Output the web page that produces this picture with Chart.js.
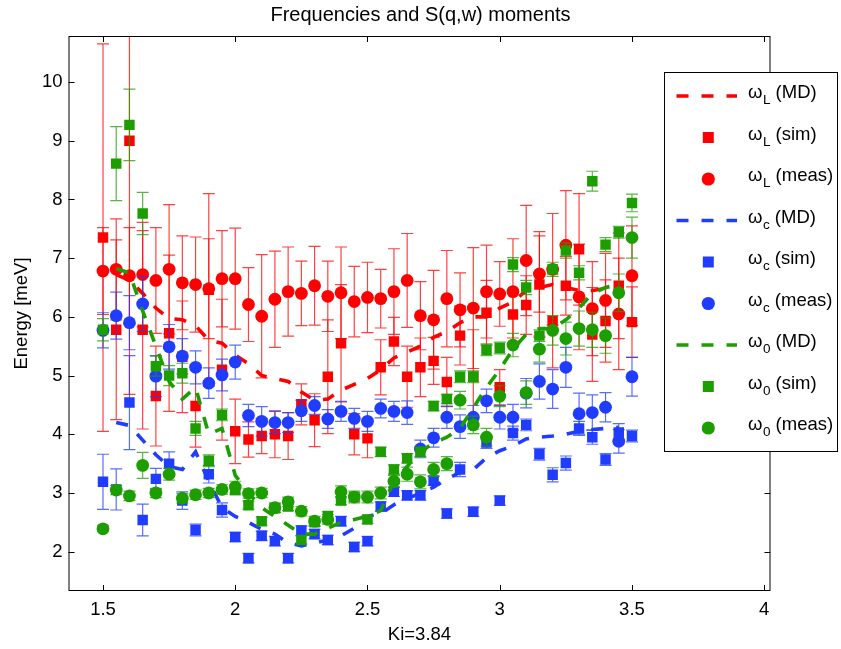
<!DOCTYPE html>
<html>
<head>
<meta charset="utf-8">
<script src="https://cdn.jsdelivr.net/npm/chart.js@4.4.1/dist/chart.umd.min.js"></script>
<style>
  html, body { margin: 0; padding: 0; background: #fff; }
  #wrap { width: 841px; height: 649px; }
</style>
</head>
<body>
<div id="wrap"><canvas id="moments" width="841" height="649"></canvas></div>
<script>
// incident wavevector grid
const ki = [1.5, 1.55, 1.6, 1.65, 1.7, 1.75, 1.8, 1.85, 1.9, 1.95,
            2.0, 2.05, 2.1, 2.15, 2.2, 2.25, 2.3, 2.35, 2.4, 2.45,
            2.5, 2.55, 2.6, 2.65, 2.7, 2.75, 2.8, 2.85, 2.9, 2.95,
            3.0, 3.05, 3.1, 3.15, 3.2, 3.25, 3.3, 3.35, 3.4, 3.45, 3.5];

// omega_L
const wLMD = [null, 6.72, 6.62, 6.40, 6.15, 5.97, 5.95, 5.85, 5.60, 5.55,
              5.35, 5.20, 5.00, 4.95, 4.90, 4.72, 4.58, 4.60, 4.75, 4.85,
              4.95, 5.10, 5.30, 5.40, 5.50, 5.65, 5.75, 5.90, 6.00, 6.00,
              6.15, 6.25, 6.45, 6.50, 6.55, 6.50, 6.45, 6.45, 6.48, 6.52, null];
const wLSim = [7.35, 5.78, 9.00, 5.78, 4.65, 5.72, 5.32, 4.48, 6.46, 5.10,
               4.05, 3.91, 3.97, 4.00, 3.97, 4.51, 4.24, 4.98, 5.55, 4.00,
               3.93, 5.14, 5.58, 4.98, 5.14, 5.25, 4.89, 5.68, 4.98, 6.07,
               4.80, 6.04, 6.20, 6.55, 5.93, 6.53, 7.15, 5.70, 5.93, 6.53, 5.91];
const wLSimErr = [3.30, 1.53, 4.32, 1.69, 0.85, 1.33, 0.95, 0.70, 1.64, 1.20,
                  0.55, 0.30, 0.30, 0.40, 0.40, 0.35, 0.45, 0.97, 1.00, 0.35,
                  0.33, 0.47, 0.41, 0.52, 0.50, 0.40, 0.42, 0.50, 0.80, 0.55,
                  0.30, 0.40, 0.50, 0.90, 0.80, 0.50, 0.95, 0.80, 0.70, 0.90, 0.60];
const wLMeas = [6.78, 6.81, 6.70, 6.72, 6.62, 6.81, 6.58, 6.55, 6.48, 6.65,
                6.65, 6.21, 6.01, 6.30, 6.43, 6.40, 6.53, 6.35, 6.41, 6.26,
                6.33, 6.31, 6.43, 6.62, 6.02, 5.95, 6.31, 6.12, 6.15, 6.43,
                6.39, 6.43, 6.96, 6.73, 6.81, 7.22, 6.34, 6.14, 6.28, 6.05, 6.70];
const wLMeasErr = [0.74, 0.86, 0.82, 0.89, 0.90, 1.10, 0.80, 0.81, 0.85, 0.82,
                   0.86, 0.63, 1.05, 0.82, 0.76, 0.55, 0.67, 0.60, 0.78, 0.60,
                   0.60, 0.50, 0.73, 0.80, 0.58, 0.84, 0.82, 0.63, 1.03, 0.79,
                   0.55, 0.90, 0.94, 0.65, 0.95, 0.93, 0.90, 0.80, 0.80, 0.95, 0.85];

// omega_c
const wcMD = [null, 4.20, 4.15, 3.90, 3.65, 3.45, 3.40, 3.70, 3.20, 2.75,
              2.60, 2.50, 2.38, 2.30, 2.15, 2.10, 2.15, 2.20, 2.27, 2.40,
              2.60, 2.65, 2.80, 2.90, 3.00, 3.10, 3.24, 3.35, 3.40, 3.60,
              3.72, 3.80, 3.92, 3.95, 3.97, 4.00, 4.05, 4.08, 4.10, 4.12, null];
const wcSim = [3.19, 3.06, 4.54, 2.54, 3.24, 3.50, 2.87, 2.37, 3.32, 2.71,
               2.25, 1.89, 2.27, 2.18, 1.89, 2.36, 2.30, 2.20, 2.52, 2.08,
               2.18, 2.77, 3.02, 2.96, 2.96, 3.21, 2.65, 3.40, 2.68, 3.86,
               2.87, 4.02, 4.16, 3.66, 3.31, 3.51, 4.10, 3.95, 3.57, 4.03, 3.97];
const wcSimErr = [0.47, 0.35, 0.80, 0.27, 0.18, 0.20, 0.15, 0.10, 0.15, 0.12,
                  0.08, 0.08, 0.08, 0.08, 0.08, 0.08, 0.08, 0.08, 0.08, 0.08,
                  0.08, 0.08, 0.08, 0.08, 0.08, 0.08, 0.08, 0.12, 0.08, 0.10,
                  0.08, 0.12, 0.10, 0.10, 0.12, 0.12, 0.12, 0.12, 0.10, 0.15, 0.10];
const wcMeas = [5.77, 6.02, 5.90, 6.22, 4.99, 5.49, 5.33, 5.14, 4.87, 5.01,
                5.23, 4.32, 4.22, 4.20, 4.20, 4.40, 4.49, 4.26, 4.39, 4.27,
                4.22, 4.44, 4.39, 4.37, 3.75, 3.94, 4.29, 4.13, 4.29, 4.57,
                4.29, 4.29, 4.70, 4.90, 4.77, 5.14, 4.35, 4.37, 4.46, 3.88, 4.98];
const wcMeasErr = [0.30, 0.40, 0.46, 0.47, 0.35, 0.38, 0.30, 0.28, 0.26, 0.27,
                   0.29, 0.19, 0.25, 0.19, 0.17, 0.18, 0.15, 0.16, 0.17, 0.17,
                   0.17, 0.16, 0.17, 0.20, 0.15, 0.16, 0.19, 0.20, 0.20, 0.20,
                   0.20, 0.22, 0.25, 0.30, 0.33, 0.34, 0.35, 0.30, 0.25, 0.20, 0.33];

// omega_0
const w0MD = [null, 6.82, 6.75, 6.10, 5.50, 4.90, 4.60, 4.80, 4.00, 4.10,
              3.30, 3.00, 2.75, 2.60, 2.45, 2.30, 2.30, 2.40, 2.50, 2.55,
              2.60, 2.70, 3.20, 3.45, 3.70, 3.85, 3.95, 4.10, 4.45, 4.80,
              5.10, 5.45, 5.70, 5.80, 5.80, 5.95, 6.15, 6.40, 6.50, 6.55, null];
const w0Sim = [5.78, 8.61, 9.27, 7.76, 5.16, 5.00, 5.04, 4.10, 3.55, 4.33,
               3.05, 2.79, 2.52, 2.74, 2.77, 2.20, 2.50, 2.61, 2.87, 2.93,
               2.55, 3.70, 3.40, 3.59, 3.70, 4.48, 4.60, 4.98, 4.98, 5.44,
               5.47, 6.89, 6.50, 5.68, 6.81, 7.13, 6.75, 8.31, 7.23, 7.44, 7.94];
const w0SimErr = [0.19, 0.63, 0.61, 0.36, 0.17, 0.17, 0.17, 0.12, 0.10, 0.10,
                  0.08, 0.07, 0.07, 0.07, 0.07, 0.07, 0.07, 0.07, 0.07, 0.07,
                  0.07, 0.08, 0.08, 0.08, 0.08, 0.08, 0.08, 0.10, 0.10, 0.10,
                  0.10, 0.12, 0.12, 0.10, 0.12, 0.13, 0.12, 0.17, 0.12, 0.10, 0.15];
const w0Meas = [2.39, 3.05, 2.95, 3.47, 3.00, 3.32, 2.91, 2.97, 3.00, 3.06,
                3.10, 2.99, 3.00, 2.75, 2.85, 2.69, 2.52, 2.55, 3.02, 2.93,
                2.93, 3.00, 3.20, 3.32, 3.19, 3.40, 3.50, 4.58, 4.16, 3.95,
                4.65, 5.52, 4.71, 5.45, 5.77, 5.63, 5.80, 5.78, 5.68, 6.41, 7.35];
const w0MeasErr = [0.05, 0.08, 0.08, 0.22, 0.08, 0.10, 0.08, 0.08, 0.08, 0.08,
                   0.10, 0.08, 0.08, 0.08, 0.08, 0.08, 0.08, 0.08, 0.10, 0.10,
                   0.10, 0.10, 0.10, 0.12, 0.12, 0.12, 0.12, 0.15, 0.15, 0.15,
                   0.18, 0.20, 0.20, 0.22, 0.25, 0.28, 0.30, 0.30, 0.30, 0.32, 0.35];

const xTicks = [1.5, 2, 2.5, 3, 3.5, 4];
const yTicks = [2, 3, 4, 5, 6, 7, 8, 9, 10];

const RED = '#ff0000';
const BLUE = '#1f3cff';
const GREEN = '#1d9e00';
const FONT = '"Liberation Sans", Arial, Helvetica, sans-serif';

const pts = (vals) => ki.map((x, i) => ({ x, y: vals[i] })).filter(p => p.y !== null);

// legend rows: [style, colour, subscript, label]
const legendRows = [
  ['line', RED, 'L', '(MD)'], ['rect', RED, 'L', '(sim)'], ['circle', RED, 'L', '(meas)'],
  ['line', BLUE, 'c', '(MD)'], ['rect', BLUE, 'c', '(sim)'], ['circle', BLUE, 'c', '(meas)'],
  ['line', GREEN, '0', '(MD)'], ['rect', GREEN, '0', '(sim)'], ['circle', GREEN, '0', '(meas)']
];

const DASH = [12, 13];
const SQ = 7.4;   // rect radius -> ~10.5px square
const CIRC = 6.4;

function mdSet(vals, color, order) {
  return { type: 'line', data: pts(vals), borderColor: color, borderWidth: 3.6,
           borderDash: DASH, pointRadius: 0, fill: false, tension: 0, order };
}
function markSet(vals, errs, color, style, order) {
  return { type: 'scatter', data: pts(vals), errors: errs, barColor: color,
           backgroundColor: color, borderWidth: 0, pointStyle: style,
           pointRadius: style === 'rect' ? SQ : CIRC, pointHoverRadius: style === 'rect' ? SQ : CIRC, order };
}

// vertical error bars with caps, drawn just under each marker set
const errorBars = {
  id: 'errorBars',
  beforeDatasetDraw(chart, args) {
    const ds = chart.data.datasets[args.index];
    if (!ds.errors) return;
    const ys = chart.scales.y, a = chart.chartArea, ctx = chart.ctx;
    ctx.save();
    ctx.beginPath();
    ctx.rect(a.left, a.top, a.right - a.left, a.bottom - a.top);
    ctx.clip();
    ctx.strokeStyle = ds.barColor;
    ctx.globalAlpha = 0.75;
    ctx.lineWidth = 1.2;
    args.meta.data.forEach((el, i) => {
      const v = ds.data[i].y, e = ds.errors[i];
      const t = ys.getPixelForValue(v + e), b = ys.getPixelForValue(v - e);
      const px = el.x;
      ctx.beginPath();
      ctx.moveTo(px, t); ctx.lineTo(px, b);
      ctx.moveTo(px - 6, t); ctx.lineTo(px + 6, t);
      ctx.moveTo(px - 6, b); ctx.lineTo(px + 6, b);
      ctx.stroke();
    });
    ctx.restore();
  }
};

// axes box with inward ticks on all four sides, then the legend box
const frameAndLegend = {
  id: 'frameAndLegend',
  afterDraw(chart) {
    const { ctx, chartArea: a, scales: { x, y } } = chart;
    ctx.save();
    ctx.strokeStyle = '#000';
    ctx.lineWidth = 1;
    ctx.strokeRect(a.left + 0.5, a.top + 0.5, a.right - a.left - 1, a.bottom - a.top - 1);
    ctx.beginPath();
    xTicks.forEach(v => {
      const px = Math.round(x.getPixelForValue(v)) + 0.5;
      ctx.moveTo(px, a.bottom); ctx.lineTo(px, a.bottom - 6);
      ctx.moveTo(px, a.top); ctx.lineTo(px, a.top + 6);
    });
    yTicks.forEach(v => {
      const py = Math.round(y.getPixelForValue(v)) + 0.5;
      ctx.moveTo(a.left, py); ctx.lineTo(a.left + 6, py);
      ctx.moveTo(a.right, py); ctx.lineTo(a.right - 6, py);
    });
    ctx.stroke();

    // legend
    const L = 664.5, T = 72.5, R = 837.5, B = 451.5;
    ctx.fillStyle = '#fff';
    ctx.fillRect(L, T, R - L, B - T);
    ctx.strokeRect(L, T, R - L, B - T);
    legendRows.forEach((row, i) => {
      const [style, color, sub, label] = row;
      const cy = 96 + i * 41.5;
      ctx.fillStyle = color;
      ctx.strokeStyle = color;
      if (style === 'line') {
        ctx.lineWidth = 3.6;
        ctx.setLineDash(DASH);
        ctx.beginPath();
        ctx.moveTo(676.5, cy); ctx.lineTo(737, cy);
        ctx.stroke();
        ctx.setLineDash([]);
      } else if (style === 'rect') {
        ctx.fillRect(708.3 - 5.5, cy - 5.5, 11, 11);
      } else {
        ctx.beginPath();
        ctx.arc(708.3, cy, 6.6, 0, Math.PI * 2);
        ctx.fill();
      }
      ctx.fillStyle = '#000';
      ctx.textBaseline = 'alphabetic';
      ctx.textAlign = 'left';
      ctx.font = '18.5px ' + FONT;
      let tx = 748;
      ctx.fillText('\u03c9', tx, cy + 2);
      tx += ctx.measureText('\u03c9').width + 0.5;
      ctx.font = '13.5px ' + FONT;
      ctx.fillText(sub, tx, cy + 8);
      tx += ctx.measureText(sub).width;
      ctx.font = '18.5px ' + FONT;
      ctx.fillText(' ' + label, tx, cy + 2);
    });
    ctx.restore();
  }
};

const datasets = [
  mdSet(wLMD, RED, 8),
  markSet(wLSim, wLSimErr, RED, 'rect', 7),
  markSet(wLMeas, wLMeasErr, RED, 'circle', 6),
  mdSet(wcMD, BLUE, 5),
  markSet(wcSim, wcSimErr, BLUE, 'rect', 4),
  markSet(wcMeas, wcMeasErr, BLUE, 'circle', 3),
  mdSet(w0MD, GREEN, 2),
  markSet(w0Sim, w0SimErr, GREEN, 'rect', 1),
  markSet(w0Meas, w0MeasErr, GREEN, 'circle', 0)
];

new Chart(document.getElementById('moments'), {
  data: { datasets },
  options: {
    responsive: false,
    animation: false,
    devicePixelRatio: 1,
    layout: { padding: 0 },
    plugins: {
      legend: { display: false },
      tooltip: { enabled: false },
      title: {
        display: true,
        text: 'Frequencies and S(q,w) moments',
        color: '#000',
        font: { family: FONT, size: 20, weight: 'normal' },
        padding: { top: 3, bottom: 9 }
      }
    },
    scales: {
      x: {
        type: 'linear',
        min: 1.3696,
        max: 4.0237,
        grid: { display: false, drawTicks: false },
        border: { display: false },
        afterBuildTicks: s => { s.ticks = xTicks.map(v => ({ value: v })); },
        afterFit: s => { s.height = 58; },
        ticks: { color: '#000', padding: 8, maxRotation: 0, font: { family: FONT, size: 18.5 },
                 callback: v => String(v) },
        title: { display: true, text: 'Ki=3.84', color: '#000', padding: { top: 0, bottom: 3 },
                 font: { family: FONT, size: 18.5 } }
      },
      y: {
        type: 'linear',
        min: 1.3305,
        max: 10.7835,
        grid: { display: false, drawTicks: false },
        border: { display: false },
        afterBuildTicks: s => { s.ticks = yTicks.map(v => ({ value: v })); },
        afterFit: s => { s.width = 68.5; },
        ticks: { color: '#000', padding: 6, font: { family: FONT, size: 18.5 },
                 callback: v => String(v) },
        title: { display: true, text: 'Energy [meV]', color: '#000', padding: { top: 11, bottom: 0 },
                 font: { family: FONT, size: 18.5 } }
      },
      // empty right-hand strip that the legend box hangs over
      yRight: {
        type: 'linear',
        position: 'right',
        display: true,
        grid: { display: false, drawTicks: false },
        border: { display: false },
        ticks: { display: false },
        afterFit: s => { s.width = 70.5; }
      }
    }
  },
  plugins: [errorBars, frameAndLegend]
});
</script>
</body>
</html>
